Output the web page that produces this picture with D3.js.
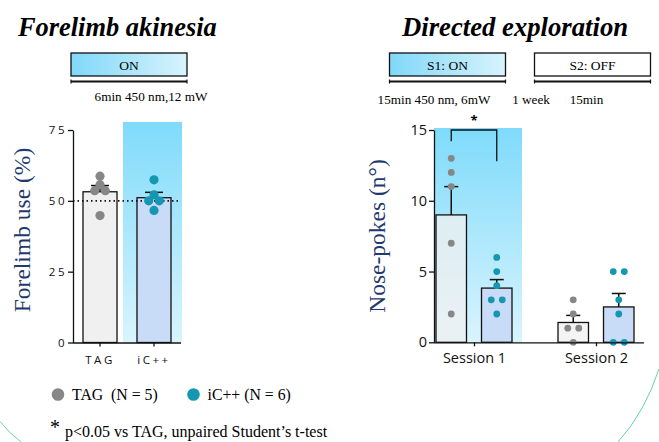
<!DOCTYPE html>
<html>
<head>
<meta charset="utf-8">
<script src="https://d3js.org/d3.v7.min.js"></script>
<style>
  body { margin: 0; background: #fff; }
  svg { display: block; }
</style>
</head>
<body>
<div id="chart"></div>
<script>
// data
const forelimbGroups = ["TAG", "iC++"];
const forelimbMean = [53.2, 51.1];
const forelimbSem = [2.2, 1.9];
const forelimbTag = [58.7, 55.7, 53.6, 53.6, 44.8];
const forelimbIc = [57.4, 52.1, 50, 50, 46.6];
const forelimbTicks = [0, 25, 50, 75];

const sessions = ["Session 1", "Session 2"];
const pokeGroups = ["TAG", "iC++"];
const pokesTagMean = [9.0, 1.4];
const pokesTagSem = [2.0, 0.5];
const pokesIcMean = [3.83, 2.5];
const pokesIcSem = [0.6, 0.95];
const pokesTag = [[13, 12, 11, 7, 2], [3, 2, 1, 1, 0]];
const pokesIc = [[6, 5, 4, 3, 3, 2], [5, 5, 3, 2, 0, 0]];
const pokeTicks = [0, 5, 10, 15];

const grey = "#878787", teal = "#1597b2";
const barFill = {"TAG": "#f0f0f0", "iC++": "#c9dcf7"};
const serif = "'Liberation Serif', 'Times New Roman', serif";
const sans = "'Open Sans', 'Noto Sans', sans-serif";

const svg = d3.select("#chart").append("svg")
    .attr("width", 659).attr("height", 442);

const defs = svg.append("defs");
const vGrad = defs.append("linearGradient").attr("id", "bgBlue")
    .attr("x1", 0).attr("y1", 0).attr("x2", 0).attr("y2", 1);
vGrad.append("stop").attr("offset", "0%").attr("stop-color", "#7fdbfb");
vGrad.append("stop").attr("offset", "100%").attr("stop-color", "#d9f4fd");
const hGrad = defs.append("linearGradient").attr("id", "boxBlue")
    .attr("x1", 0).attr("y1", 0).attr("x2", 1).attr("y2", 0);
hGrad.append("stop").attr("offset", "0%").attr("stop-color", "#80d8f8");
hGrad.append("stop").attr("offset", "100%").attr("stop-color", "#d8f3fd");

// spread equal values side by side (like prism scatter)
function dodge(values, spacing) {
    const counts = {}, seen = {};
    values.forEach(v => counts[v] = (counts[v] || 0) + 1);
    return values.map(v => {
        seen[v] = (seen[v] || 0);
        const off = (seen[v] - (counts[v] - 1) / 2) * spacing;
        seen[v]++;
        return {v: v, dx: off};
    });
}

// ---------------- titles + protocol boxes ----------------
svg.append("text").attr("x", 18).attr("y", 36)
    .style("font-family", serif).style("font-size", "26.4px")
    .style("font-weight", "bold").style("font-style", "italic")
    .text("Forelimb akinesia");
svg.append("text").attr("x", 402).attr("y", 36)
    .style("font-family", serif).style("font-size", "26.7px")
    .style("font-weight", "bold").style("font-style", "italic")
    .text("Directed exploration");

function protocolBox(x, w, fill, label) {
    svg.append("rect").attr("x", x).attr("y", 53).attr("width", w).attr("height", 23)
        .attr("fill", fill).attr("stroke", "#111").attr("stroke-width", 1.3);
    svg.append("text").attr("x", x + w / 2).attr("y", 70).attr("text-anchor", "middle")
        .style("font-family", serif).style("font-size", "13.5px").text(label);
    svg.append("line").attr("x1", x).attr("x2", x + w).attr("y1", 81.5).attr("y2", 81.5)
        .attr("stroke", "#111").attr("stroke-width", 2);
    [x, x + w].forEach(px => svg.append("line").attr("x1", px).attr("x2", px)
        .attr("y1", 79.5).attr("y2", 83.5).attr("stroke", "#111").attr("stroke-width", 1.2));
}
protocolBox(71, 116, "url(#boxBlue)", "ON");
protocolBox(389.5, 116, "url(#boxBlue)", "S1: ON");
protocolBox(534.5, 116, "#fff", "S2: OFF");

const smallNotes = [["6min 450 nm,12 mW", 151, 101], ["15min 450 nm, 6mW", 434, 104],
                    ["1 week", 531, 104], ["15min", 586.5, 104]];
svg.selectAll("text.note").data(smallNotes).enter().append("text")
    .attr("class", "note")
    .attr("x", d => d[1]).attr("y", d => d[2]).attr("text-anchor", "middle")
    .style("font-family", serif).style("font-size", "13.2px")
    .text(d => d[0]);

// ---------------- forelimb chart ----------------
const y1 = d3.scaleLinear().domain([0, 75]).range([342.5, 130]);
const x1 = d3.scaleBand().domain(forelimbGroups).range([83, 171]).paddingInner(0.37);

svg.append("rect").attr("x", 123).attr("y", 122).attr("width", 59).attr("height", y1(0) - 122)
    .attr("fill", "url(#bgBlue)");

const g1 = svg.append("g");
g1.selectAll("rect.bar").data(forelimbGroups).enter().append("rect")
    .attr("class", "bar")
    .attr("x", d => x1(d)).attr("width", x1.bandwidth())
    .attr("y", (d, i) => y1(forelimbMean[i]))
    .attr("height", (d, i) => y1(0) - y1(forelimbMean[i]))
    .attr("fill", d => barFill[d]).attr("stroke", "#111").attr("stroke-width", 1.3);

// error bars (upper only)
forelimbGroups.forEach((grp, i) => {
    const cx = x1(grp) + x1.bandwidth() / 2;
    g1.append("line").attr("x1", cx).attr("x2", cx)
        .attr("y1", y1(forelimbMean[i])).attr("y2", y1(forelimbMean[i] + forelimbSem[i]))
        .attr("stroke", "#111").attr("stroke-width", 1.5);
    g1.append("line").attr("x1", cx - 9).attr("x2", cx + 9)
        .attr("y1", y1(forelimbMean[i] + forelimbSem[i])).attr("y2", y1(forelimbMean[i] + forelimbSem[i]))
        .attr("stroke", "#111").attr("stroke-width", 1.5);
});

// chance level
g1.append("line").attr("x1", 73).attr("x2", 181).attr("y1", y1(50)).attr("y2", y1(50))
    .attr("stroke", "#111").attr("stroke-width", 1.6).attr("stroke-dasharray", "1.5,3");

[[forelimbTag, "TAG", grey], [forelimbIc, "iC++", teal]].forEach(([vals, grp, col]) => {
    const cx = x1(grp) + x1.bandwidth() / 2;
    g1.selectAll(null).data(dodge(vals, 10.6)).enter().append("circle")
        .attr("cx", d => cx + d.dx).attr("cy", d => y1(d.v)).attr("r", 4.6)
        .attr("fill", col);
});

const yAxis1 = svg.append("g").attr("transform", "translate(73,0)")
    .call(d3.axisLeft(y1).tickValues(forelimbTicks).tickSize(5).tickSizeOuter(0));
yAxis1.selectAll("text").style("font-family", sans).style("font-size", "11.5px")
    .style("letter-spacing", "2.5px").attr("x", -6).attr("fill", "#111");
const xAxis1 = svg.append("g").attr("transform", `translate(0,${y1(0)})`)
    .call(d3.axisBottom(x1).tickSize(4).tickSizeOuter(0));
xAxis1.select(".domain").attr("d", "M73,0.5H181");
xAxis1.selectAll("text").style("font-family", sans).style("font-size", "11.5px")
    .style("letter-spacing", "2.5px").attr("y", 13).attr("fill", "#111");
[yAxis1, xAxis1].forEach(a => a.selectAll("path, line").attr("stroke", "#111").attr("stroke-width", 1.3));

svg.append("text").attr("transform", "translate(30,230) rotate(-90)")
    .attr("text-anchor", "middle").attr("fill", "#1f3a6e")
    .style("font-family", serif).style("font-size", "23.5px")
    .text("Forelimb use (%)");

// ---------------- nose poke chart ----------------
const y2 = d3.scaleLinear().domain([0, 15]).range([342.3, 130]);
const x2 = d3.scalePoint().domain(sessions).range([474, 596]);
const xin = d3.scaleBand().domain(pokeGroups).range([-38, 38]).paddingInner(0.33);

svg.append("rect").attr("x", 434).attr("y", 128).attr("width", 88).attr("height", y2(0) - 128)
    .attr("fill", "url(#bgBlue)");

const g2 = svg.append("g");
sessions.forEach((s, si) => {
    const means = [pokesTagMean[si], pokesIcMean[si]];
    const sems = [pokesTagSem[si], pokesIcSem[si]];
    pokeGroups.forEach((grp, gi) => {
        const bx = x2(s) + xin(grp);
        g2.append("rect").attr("x", bx).attr("width", xin.bandwidth())
            .attr("y", y2(means[gi])).attr("height", y2(0) - y2(means[gi]))
            .attr("fill", barFill[grp]).attr("fill-opacity", grp === "TAG" ? 0.75 : 1)
            .attr("stroke", "#111").attr("stroke-width", 1.3);
        const cx = bx + xin.bandwidth() / 2;
        g2.append("line").attr("x1", cx).attr("x2", cx)
            .attr("y1", y2(means[gi])).attr("y2", y2(means[gi] + sems[gi]))
            .attr("stroke", "#111").attr("stroke-width", 1.5);
        g2.append("line").attr("x1", cx - 7).attr("x2", cx + 7)
            .attr("y1", y2(means[gi] + sems[gi])).attr("y2", y2(means[gi] + sems[gi]))
            .attr("stroke", "#111").attr("stroke-width", 1.5);
    });
    [[pokesTag[si], "TAG", grey], [pokesIc[si], "iC++", teal]].forEach(([vals, grp, col]) => {
        const cx = x2(s) + xin(grp) + xin.bandwidth() / 2;
        g2.selectAll(null).data(dodge(vals, 11)).enter().append("circle")
            .attr("cx", d => cx + d.dx).attr("cy", d => y2(d.v)).attr("r", 3.4)
            .attr("fill", col);
    });
});

// significance bracket, session 1
const bl = x2(sessions[0]) + xin("TAG") + xin.bandwidth() / 2;
const br = x2(sessions[0]) + xin("iC++") + xin.bandwidth() / 2;
g2.append("path")
    .attr("d", `M${bl},${y2(14.2)}V${y2(15)}H${br}V${y2(12.8)}`)
    .attr("fill", "none").attr("stroke", "#111").attr("stroke-width", 1.3);
g2.append("text").attr("x", (bl + br) / 2).attr("y", 125).attr("text-anchor", "middle")
    .style("font-family", sans).style("font-size", "13px").style("font-weight", "bold").text("*");

const yAxis2 = svg.append("g").attr("transform", "translate(434,0)")
    .call(d3.axisLeft(y2).tickValues(pokeTicks).tickSize(5).tickSizeOuter(0));
yAxis2.selectAll("text").style("font-family", sans).style("font-size", "14.5px")
    .attr("x", -7).attr("fill", "#111");
const xAxis2 = svg.append("g").attr("transform", `translate(0,${y2(0)})`)
    .call(d3.axisBottom(x2).tickSize(4).tickSizeOuter(0));
xAxis2.select(".domain").attr("d", "M434,0.5H644");
xAxis2.selectAll("text").style("font-family", sans).style("font-size", "14.5px")
    .attr("y", 10).attr("fill", "#111");
[yAxis2, xAxis2].forEach(a => a.selectAll("path, line").attr("stroke", "#111").attr("stroke-width", 1.3));

svg.append("text").attr("transform", "translate(385,236) rotate(-90)")
    .attr("text-anchor", "middle").attr("fill", "#1f3a6e")
    .style("font-family", serif).style("font-size", "23.5px")
    .text("Nose-pokes (n°)");

// ---------------- legend + footnote ----------------
const legend = [["TAG  (N = 5)", grey, 58], ["iC++ (N = 6)", teal, 193.5]];
legend.forEach(([label, col, lx]) => {
    svg.append("circle").attr("cx", lx).attr("cy", 394.5).attr("r", 6.3).attr("fill", col);
    svg.append("text").attr("x", lx + 14).attr("y", 400)
        .style("font-family", serif).style("font-size", "15.8px").style("white-space", "pre")
        .text(label);
});
svg.append("text").attr("x", 50).attr("y", 434)
    .style("font-family", serif).style("font-size", "20px").text("*");
svg.append("text").attr("x", 65).attr("y", 437)
    .style("font-family", serif).style("font-size", "16px")
    .text("p<0.05 vs TAG, unpaired Student\u2019s t-test");

// slide decoration arcs
svg.append("path").attr("d", "M0,421.5Q9,433 21,442")
    .attr("fill", "none").attr("stroke", "#63d3a6").attr("stroke-width", 1);
svg.append("path").attr("d", "M659,369Q645,412 618,442")
    .attr("fill", "none").attr("stroke", "#63d3a6").attr("stroke-width", 1);
</script>
</body>
</html>
